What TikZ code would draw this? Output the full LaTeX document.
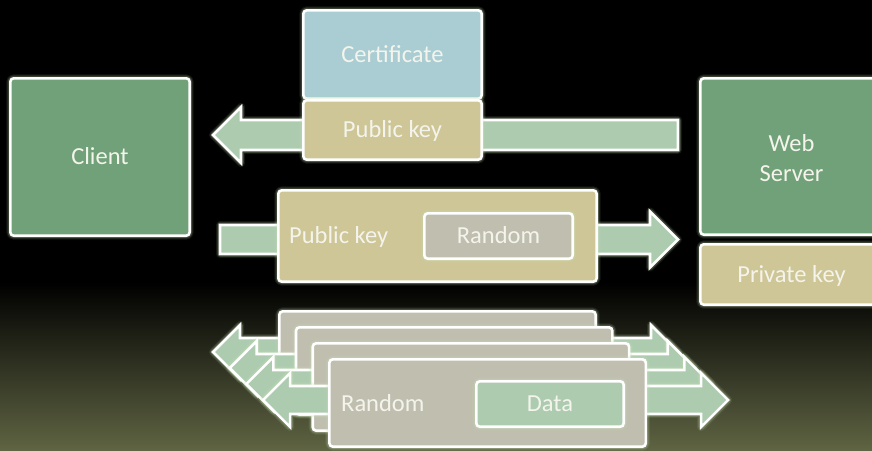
\documentclass[tikz,border=0pt]{standalone}
\usepackage{fontspec}
\setmainfont{Carlito}
\definecolor{clientgreen}{HTML}{70A178}
\definecolor{certblue}{HTML}{A9CDD3}
\definecolor{keytan}{HTML}{CEC696}
\definecolor{randgrey}{HTML}{C0BEAF}
\definecolor{arrowgreen}{HTML}{ADCBAF}
\definecolor{bgolive}{HTML}{5F6443}
\definecolor{glowc}{HTML}{C6E2B4}
\definecolor{labelc}{HTML}{F4F4EC}

\tikzset{
  glowing/.style={
    preaction={draw=glowc, line width=8pt, opacity=.10, line join=round},
    preaction={draw=glowc, line width=5.5pt, opacity=.22, line join=round}},
  capcentre/.style={text height=15.8pt, text depth=0pt},
  panel/.style={glowing, draw=white, line width=2.6pt, rounded corners=3.5pt,
    inner sep=0pt, text=labelc, font=\fontsize{24.5}{30}\selectfont, align=center},
  lblplain/.style={text=labelc, font=\fontsize{24.5}{30}\selectfont, inner sep=0pt},
  lbl/.style={lblplain, capcentre},
  band/.style={glowing, draw=white, fill=arrowgreen, line width=2.6pt, line join=miter},
}

% rectangle node given by its outer edges: name, x1, y1, x2, y2, fill, text
\newcommand\Panel[7]{%
  \pgfmathsetmacro\pnw{(#4)-(#2)-2.6}%
  \pgfmathsetmacro\pnh{(#5)-(#3)-2.6}%
  \pgfmathsetmacro\pnx{((#2)+(#4))/2}%
  \pgfmathsetmacro\pny{((#3)+(#5))/2}%
  \node[panel, capcentre, fill=#6, minimum width=\pnw pt, minimum height=\pnh pt]
    (#1) at (\pnx,\pny) {#7};}

% block arrow pointing left: name, tip x, tail x, centre y, shaft half, head half
\newcommand\ArrowWest[6]{%
  \coordinate (#1-tip) at (#2,#4);
  \coordinate (#1-tail) at (#3,#4);
  \draw[band] (#1-tip) -- (#2+#6,#4-#6) -- (#2+#6,#4-#5) -- (#3,#4-#5)
    -- (#3,#4+#5) -- (#2+#6,#4+#5) -- (#2+#6,#4+#6) -- cycle;}

% block arrow pointing right: name, tail x, tip x, centre y, shaft half, head half
\newcommand\ArrowEast[6]{%
  \coordinate (#1-tail) at (#2,#4);
  \coordinate (#1-tip) at (#3,#4);
  \draw[band] (#1-tip) -- (#3-#6,#4-#6) -- (#3-#6,#4-#5) -- (#2,#4-#5)
    -- (#2,#4+#5) -- (#3-#6,#4+#5) -- (#3-#6,#4+#6) -- cycle;}

% two-headed block arrow: name, left tip x, right tip x, centre y, shaft half, head half
\newcommand\ArrowBoth[6]{%
  \coordinate (#1-west) at (#2,#4);
  \coordinate (#1-east) at (#3,#4);
  \draw[band] (#1-west) -- (#2+#6,#4-#6) -- (#2+#6,#4-#5) -- (#3-#6,#4-#5)
    -- (#3-#6,#4-#6) -- (#1-east) -- (#3-#6,#4+#6) -- (#3-#6,#4+#5)
    -- (#2+#6,#4+#5) -- (#2+#6,#4+#6) -- cycle;}

\begin{document}
\begin{tikzpicture}[x=1pt, y=-1pt]
  \useasboundingbox (0,0) rectangle (872,450);
  \clip (0,0) rectangle (872,450);

  % backdrop: black fading to olive at the bottom
  \fill[black] (0,0) rectangle (872,450);
  \shade[top color=black, bottom color=bgolive] (0,282) rectangle (872,450);

  % server sends its certificate with the public key
  \ArrowWest{certflow}{213}{678}{135}{15}{28}
  \Panel{cert}{302}{9}{483}{100}{certblue}{Certificate}
  \Panel{certkey}{302}{99}{483}{161}{keytan}{Public key}

  % client returns the random value under the public key
  \ArrowEast{keyflow}{220}{678}{239.5}{14.5}{28}
  \Panel{envelope}{277}{189}{598}{283}{keytan}{}
  \node[lbl, anchor=west] (envlabel) at (289,236) {Public key};
  \Panel{secret}{423}{212}{574}{260}{randgrey}{Random}

  % the two parties
  \Panel{client}{9}{77}{191}{237}{clientgreen}{Client}
  \Panel{server}{699}{77}{884}{236}{clientgreen}{}
  \node[lblplain, align=center] (serverlabel) at (791.5,158.5) {Web\\Server};
  \Panel{privkey}{699}{243}{884}{306}{keytan}{Private key}

  % stream of records encrypted with the shared random value
  \foreach \i in {0,1,2,3}{
    \pgfmathsetmacro\dx{16.7*\i}
    \pgfmathsetmacro\dy{16*\i}
    \ArrowBoth{stream\i}{213+\dx}{678+\dx}{352+\dy}{14}{27}
    \Panel{record\i}{278+\dx}{310+\dy}{597+\dx}{400+\dy}{randgrey}{}
  }
  \node[lbl, anchor=west] (reclabel) at (341,403.5) {Random};
  \Panel{data}{475}{380}{625}{428}{arrowgreen}{Data}
\end{tikzpicture}
\end{document}
